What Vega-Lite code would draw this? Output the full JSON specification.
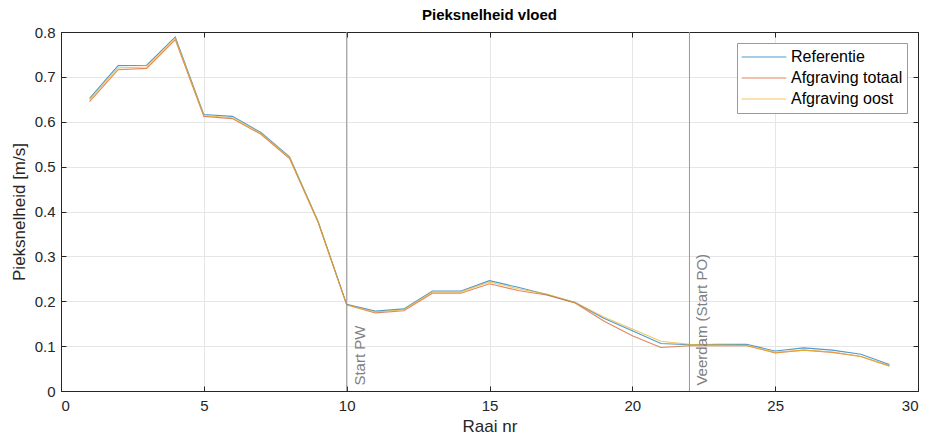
{
  "$schema": "https://vega.github.io/schema/vega-lite/v6.json",
  "width": 857,
  "height": 359,
  "autosize": {"type": "none"},
  "padding": {"left": 61, "top": 32, "right": 11, "bottom": 49},
  "background": "white",
  "config": {
    "font": "Liberation Sans",
    "view": {"stroke": null},
    "axis": {"labelFont": "Liberation Sans", "titleFont": "Liberation Sans", "labelColor": "#262626", "titleColor": "#262626", "labelFontSize": 15, "titleFontSize": 17, "titleFontWeight": "normal", "domainColor": "#262626", "tickColor": "#262626", "gridColor": "#e6e6e6", "gridWidth": 1}
  },
  "title": {"text": "Pieksnelheid vloed", "fontSize": 15, "fontWeight": "bold", "font": "Liberation Sans", "color": "#000000", "anchor": "middle", "offset": 2},
  "datasets": {
    "lines": [
      {"x": 1, "s": "Referentie", "v": 0.652}, {"x": 2, "s": "Referentie", "v": 0.725}, {"x": 3, "s": "Referentie", "v": 0.726}, {"x": 4, "s": "Referentie", "v": 0.789},
      {"x": 5, "s": "Referentie", "v": 0.616}, {"x": 6, "s": "Referentie", "v": 0.612}, {"x": 7, "s": "Referentie", "v": 0.576}, {"x": 8, "s": "Referentie", "v": 0.522},
      {"x": 9, "s": "Referentie", "v": 0.378}, {"x": 10, "s": "Referentie", "v": 0.193}, {"x": 11, "s": "Referentie", "v": 0.178}, {"x": 12, "s": "Referentie", "v": 0.183},
      {"x": 13, "s": "Referentie", "v": 0.223}, {"x": 14, "s": "Referentie", "v": 0.223}, {"x": 15, "s": "Referentie", "v": 0.246}, {"x": 16, "s": "Referentie", "v": 0.231},
      {"x": 17, "s": "Referentie", "v": 0.215}, {"x": 18, "s": "Referentie", "v": 0.197}, {"x": 19, "s": "Referentie", "v": 0.162}, {"x": 20, "s": "Referentie", "v": 0.134},
      {"x": 21, "s": "Referentie", "v": 0.106}, {"x": 22, "s": "Referentie", "v": 0.103}, {"x": 23, "s": "Referentie", "v": 0.104}, {"x": 24, "s": "Referentie", "v": 0.104},
      {"x": 25, "s": "Referentie", "v": 0.089}, {"x": 26, "s": "Referentie", "v": 0.096}, {"x": 27, "s": "Referentie", "v": 0.091}, {"x": 28, "s": "Referentie", "v": 0.082},
      {"x": 29, "s": "Referentie", "v": 0.059},
      {"x": 1, "s": "Afgraving totaal", "v": 0.645}, {"x": 2, "s": "Afgraving totaal", "v": 0.716}, {"x": 3, "s": "Afgraving totaal", "v": 0.719}, {"x": 4, "s": "Afgraving totaal", "v": 0.783},
      {"x": 5, "s": "Afgraving totaal", "v": 0.612}, {"x": 6, "s": "Afgraving totaal", "v": 0.607}, {"x": 7, "s": "Afgraving totaal", "v": 0.572}, {"x": 8, "s": "Afgraving totaal", "v": 0.518},
      {"x": 9, "s": "Afgraving totaal", "v": 0.376}, {"x": 10, "s": "Afgraving totaal", "v": 0.192}, {"x": 11, "s": "Afgraving totaal", "v": 0.174}, {"x": 12, "s": "Afgraving totaal", "v": 0.179},
      {"x": 13, "s": "Afgraving totaal", "v": 0.218}, {"x": 14, "s": "Afgraving totaal", "v": 0.218}, {"x": 15, "s": "Afgraving totaal", "v": 0.239}, {"x": 16, "s": "Afgraving totaal", "v": 0.224},
      {"x": 17, "s": "Afgraving totaal", "v": 0.214}, {"x": 18, "s": "Afgraving totaal", "v": 0.196}, {"x": 19, "s": "Afgraving totaal", "v": 0.156}, {"x": 20, "s": "Afgraving totaal", "v": 0.123},
      {"x": 21, "s": "Afgraving totaal", "v": 0.097}, {"x": 22, "s": "Afgraving totaal", "v": 0.101}, {"x": 23, "s": "Afgraving totaal", "v": 0.101}, {"x": 24, "s": "Afgraving totaal", "v": 0.101},
      {"x": 25, "s": "Afgraving totaal", "v": 0.085}, {"x": 26, "s": "Afgraving totaal", "v": 0.091}, {"x": 27, "s": "Afgraving totaal", "v": 0.086}, {"x": 28, "s": "Afgraving totaal", "v": 0.077},
      {"x": 29, "s": "Afgraving totaal", "v": 0.056},
      {"x": 1, "s": "Afgraving oost", "v": 0.649}, {"x": 2, "s": "Afgraving oost", "v": 0.72}, {"x": 3, "s": "Afgraving oost", "v": 0.722}, {"x": 4, "s": "Afgraving oost", "v": 0.786},
      {"x": 5, "s": "Afgraving oost", "v": 0.614}, {"x": 6, "s": "Afgraving oost", "v": 0.609}, {"x": 7, "s": "Afgraving oost", "v": 0.574}, {"x": 8, "s": "Afgraving oost", "v": 0.52},
      {"x": 9, "s": "Afgraving oost", "v": 0.377}, {"x": 10, "s": "Afgraving oost", "v": 0.192}, {"x": 11, "s": "Afgraving oost", "v": 0.176}, {"x": 12, "s": "Afgraving oost", "v": 0.181},
      {"x": 13, "s": "Afgraving oost", "v": 0.221}, {"x": 14, "s": "Afgraving oost", "v": 0.221}, {"x": 15, "s": "Afgraving oost", "v": 0.243}, {"x": 16, "s": "Afgraving oost", "v": 0.228},
      {"x": 17, "s": "Afgraving oost", "v": 0.216}, {"x": 18, "s": "Afgraving oost", "v": 0.197}, {"x": 19, "s": "Afgraving oost", "v": 0.165}, {"x": 20, "s": "Afgraving oost", "v": 0.138},
      {"x": 21, "s": "Afgraving oost", "v": 0.111}, {"x": 22, "s": "Afgraving oost", "v": 0.104}, {"x": 23, "s": "Afgraving oost", "v": 0.103}, {"x": 24, "s": "Afgraving oost", "v": 0.102},
      {"x": 25, "s": "Afgraving oost", "v": 0.086}, {"x": 26, "s": "Afgraving oost", "v": 0.091}, {"x": 27, "s": "Afgraving oost", "v": 0.087}, {"x": 28, "s": "Afgraving oost", "v": 0.077},
      {"x": 29, "s": "Afgraving oost", "v": 0.055}
    ],
    "marks": [
      {"x": 10, "label": "Start PW", "y": 0.012},
      {"x": 22, "label": "Veerdam (Start PO)", "y": 0.012}
    ]
  },
  "resolve": {"axis": {"x": "independent", "y": "independent"}},
  "layer": [
    {
      "data": {"name": "lines"},
      "mark": {"type": "line", "strokeWidth": 1.1, "opacity": 0.7},
      "encoding": {
        "x": {"field": "x", "type": "quantitative", "scale": {"domain": [0, 30], "nice": false}, "axis": {"title": "Raai nr", "values": [0, 5, 10, 15, 20, 25, 30], "tickSize": -5, "labelPadding": 12, "titlePadding": 5, "grid": true, "domainColor": "#262626"}},
        "y": {"field": "v", "type": "quantitative", "scale": {"domain": [0, 0.8], "nice": false}, "axis": {"title": "Pieksnelheid [m/s]", "values": [0, 0.1, 0.2, 0.3, 0.4, 0.5, 0.6, 0.7, 0.8], "labelExpr": "datum.value == 0 ? '0' : format(datum.value, '.1f')", "tickSize": -5, "labelPadding": 11, "titlePadding": 6, "grid": true}},
        "color": {"field": "s", "type": "nominal", "sort": ["Referentie", "Afgraving totaal", "Afgraving oost"], "scale": {"domain": ["Referentie", "Afgraving totaal", "Afgraving oost"], "range": ["#0072BD", "#D95319", "#EDB120"]},
          "legend": {"title": null, "orient": "none", "legendX": 676, "legendY": 11, "symbolType": "stroke", "symbolSize": 2000, "symbolStrokeWidth": 1.1, "symbolOpacity": 0.7, "clipHeight": 20, "labelFontSize": 16, "labelFont": "Liberation Sans", "labelColor": "#000000", "strokeColor": "#9a9a9a", "fillColor": "white", "padding": 4, "rowPadding": 1, "labelOffset": 4}}
      }
    },
    {
      "data": {"name": "marks"},
      "mark": {"type": "rule", "color": "#999999", "strokeWidth": 1},
      "encoding": {
        "x": {"field": "x", "type": "quantitative", "axis": {"orient": "top", "title": null, "labels": false, "values": [0, 5, 10, 15, 20, 25, 30], "tickSize": -5, "grid": false, "domainColor": "#262626"}},
        "y": {"datum": 0, "type": "quantitative", "axis": {"orient": "right", "title": null, "labels": false, "values": [0, 0.1, 0.2, 0.3, 0.4, 0.5, 0.6, 0.7, 0.8], "tickSize": -5, "grid": false}},
        "y2": {"datum": 0.8}
      }
    },
    {
      "data": {"name": "marks"},
      "mark": {"type": "text", "angle": 270, "align": "left", "baseline": "top", "dx": 0, "dy": 6, "fontSize": 15, "font": "Liberation Sans", "color": "#808080"},
      "encoding": {
        "x": {"field": "x", "type": "quantitative", "axis": null},
        "y": {"field": "y", "type": "quantitative", "axis": null},
        "text": {"field": "label"}
      }
    }
  ]
}
